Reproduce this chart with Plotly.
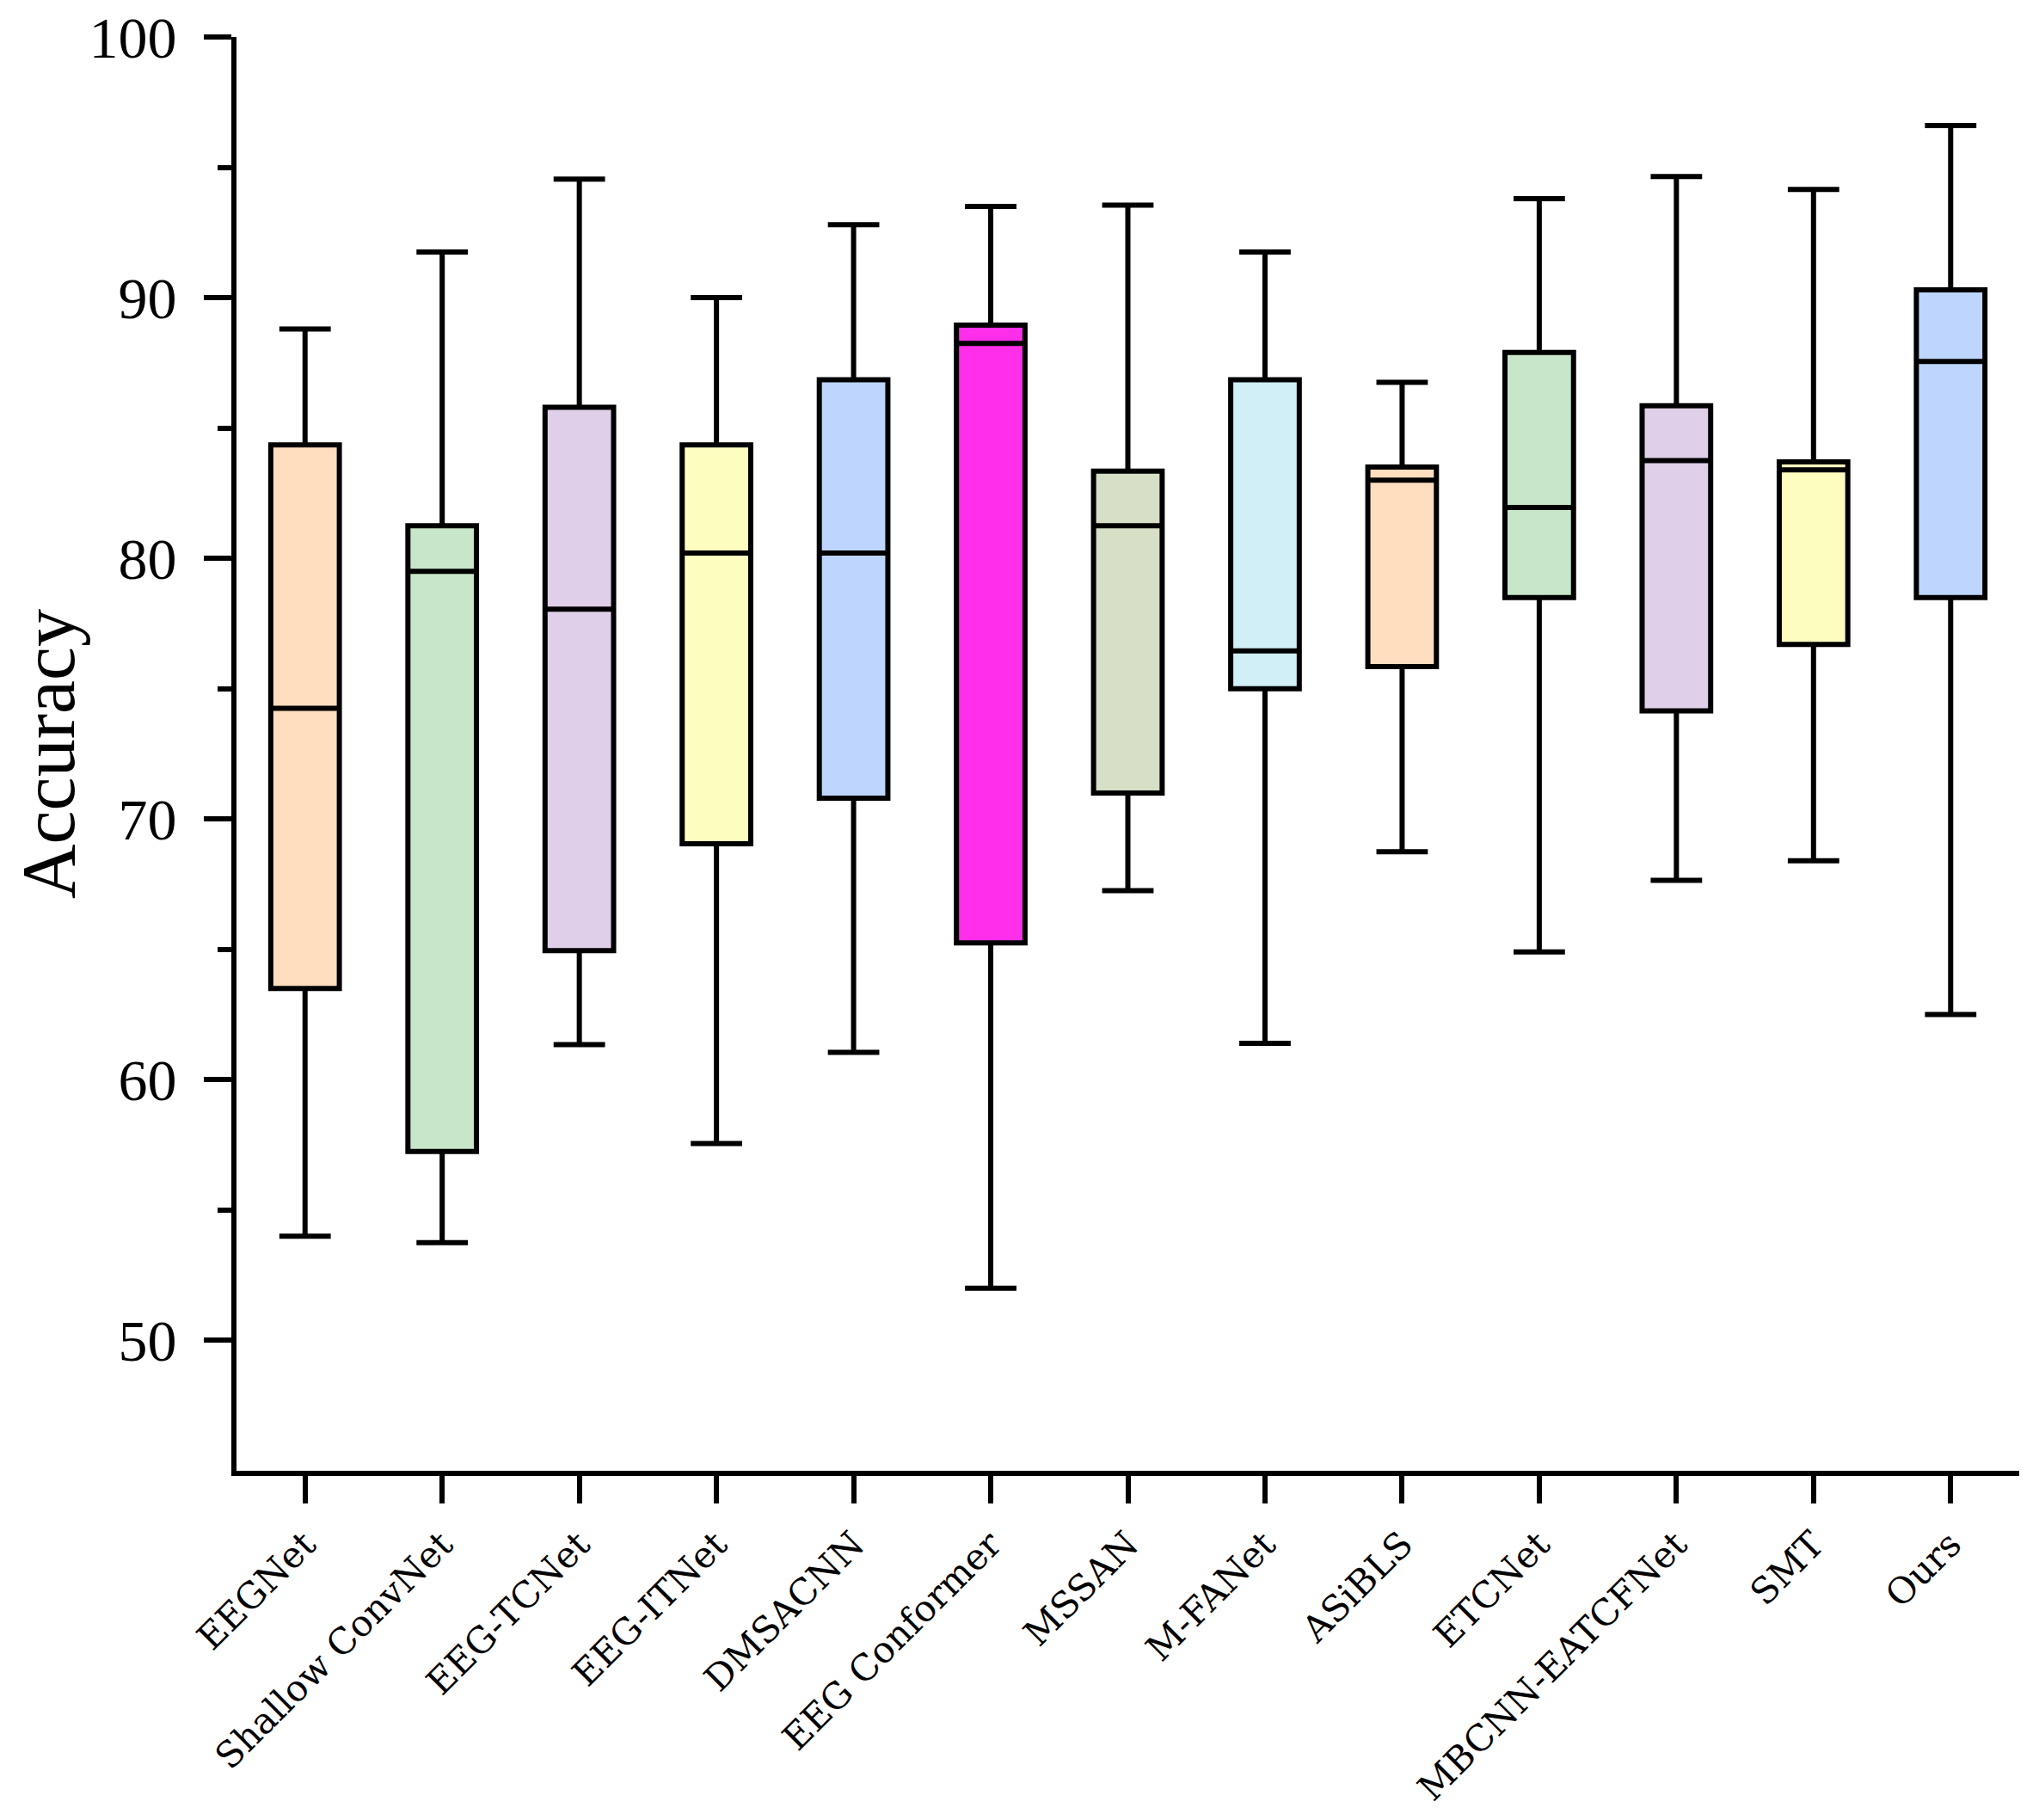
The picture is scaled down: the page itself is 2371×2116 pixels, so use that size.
import plotly.graph_objects as go

# accuracy (%) per model
models = ["EEGNet", "Shallow ConvNet", "EEG-TCNet", "EEG-ITNet", "DMSACNN",
          "EEG Conformer", "MSSAN", "M-FANet", "ASiBLS", "ETCNet",
          "MBCNN-EATCFNet", "SMT", "Ours"]
upper = [88.8, 91.75, 94.55, 90.0, 92.8, 93.5, 93.55, 91.75, 86.75, 93.8, 94.65, 94.15, 96.6]
q3 = [84.35, 81.25, 85.8, 84.35, 86.85, 88.95, 83.35, 86.85, 83.5, 87.9, 85.85, 83.7, 90.3]
median = [74.25, 79.5, 78.05, 80.2, 80.2, 88.25, 81.25, 76.45, 83.0, 81.95, 83.75, 83.4, 87.55]
q1 = [63.5, 57.25, 64.95, 69.05, 70.8, 65.25, 71.0, 75.0, 75.85, 78.5, 74.15, 76.7, 78.5]
lower = [54.0, 53.75, 61.35, 57.55, 61.05, 52.0, 67.25, 61.4, 68.75, 64.9, 67.65, 68.4, 62.5]

colors = ["#FFDEBF", "#C8E6C9", "#DFCFE8", "#FDFDC0", "#BED6FD", "#FF2EEA",
          "#D7DFC7", "#D0EFF6", "#FFDEBF", "#C8E6C9", "#DFCFE8", "#FDFDC0", "#BED6FD"]

fig = go.Figure()
for i, m in enumerate(models):
    fig.add_trace(go.Box(
        x=[m], q1=[q1[i]], median=[median[i]], q3=[q3[i]],
        lowerfence=[lower[i]], upperfence=[upper[i]],
        fillcolor=colors[i], line=dict(color="black", width=6),
        width=0.5, whiskerwidth=0.75, showlegend=False, boxpoints=False,
    ))

fig.update_layout(
    width=2371, height=2116,
    margin=dict(l=267, r=31, t=35, b=414),
    plot_bgcolor="white", paper_bgcolor="white",
    boxmode="overlay",
)
fig.update_xaxes(
    type="category", categoryorder="array", categoryarray=models,
    range=[-0.5, 12.5], automargin=False,
    showline=True, linecolor="black", linewidth=6,
    ticks="outside", ticklen=32, tickwidth=6, tickcolor="black",
    tickangle=-45, tickfont=dict(family="DejaVu Serif", size=42, color="black"),
    ticklabelstandoff=6, ticklabeloverflow="allow",
    showgrid=False, zeroline=False,
)
fig.update_yaxes(
    range=[45, 100], tickvals=[50, 60, 70, 80, 90, 100], automargin=False,
    showline=True, linecolor="black", linewidth=6,
    ticks="outside", ticklen=32, tickwidth=6, tickcolor="black",
    minor=dict(tickvals=[55, 65, 75, 85, 95], ticks="outside", ticklen=16,
               tickwidth=6, tickcolor="black"),
    tickfont=dict(family="Liberation Serif", size=68, color="black"),
    ticklabelstandoff=18, ticklabeloverflow="allow",
    title=dict(text="Accuracy", font=dict(family="Liberation Serif", size=88, color="black"),
               standoff=20),
    showgrid=False, zeroline=False,
)

fig.write_html("out.html")
